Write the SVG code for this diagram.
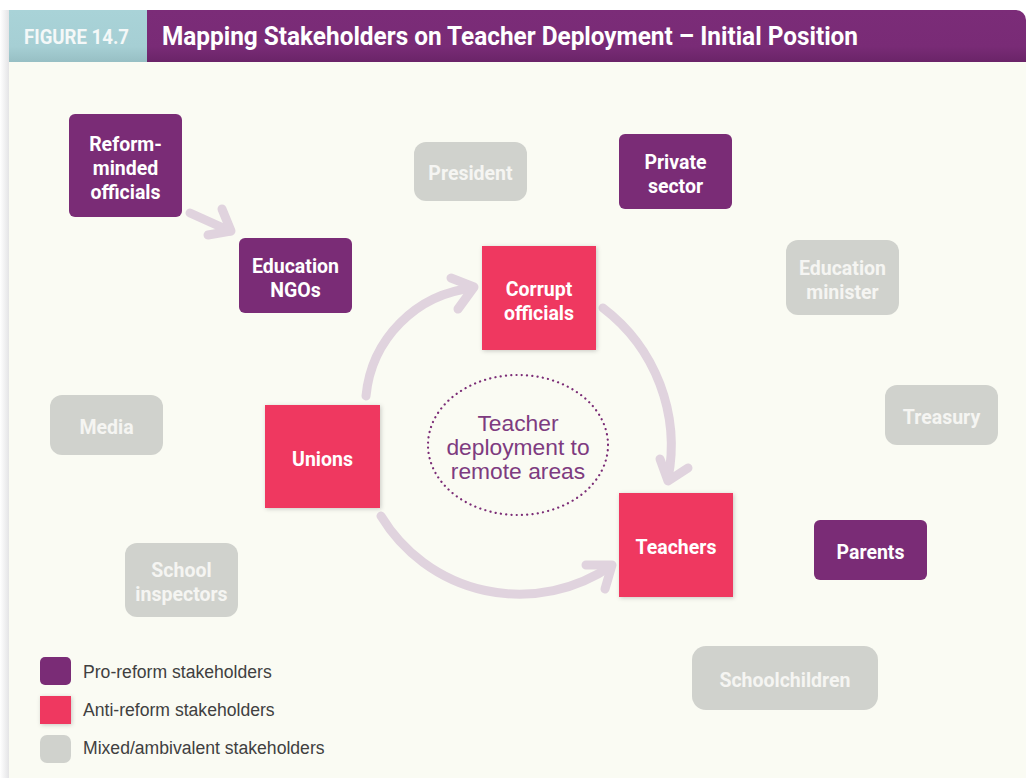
<svg xmlns="http://www.w3.org/2000/svg" width="1026" height="778" viewBox="0 0 1026 778">
<defs>
<style>
.pro{fill:#7a2c76}
.anti{fill:#ef3860}
.mix{fill:#d0d2cd}
.lbl{font-family:Roboto,"Liberation Sans",sans-serif;font-weight:bold;font-size:19.5px;text-anchor:middle;fill:#ffffff}
.mix-t{fill:#f5f5f2}
.leg{font-family:"Liberation Sans",Arial,sans-serif;font-size:17.6px;fill:#404040}
.arr{fill:none;stroke:#e0d3de;stroke-width:9;stroke-linecap:round;stroke-linejoin:round}
</style>
<linearGradient id="tealg" x1="0" y1="0" x2="0" y2="1">
<stop offset="0" stop-color="#a9d3d8"/><stop offset="0.7" stop-color="#a6cfd4"/><stop offset="1" stop-color="#97bfc4"/>
</linearGradient>
<linearGradient id="purg" x1="0" y1="0" x2="0" y2="1">
<stop offset="0" stop-color="#7b2c78"/><stop offset="0.7" stop-color="#792b76"/><stop offset="1" stop-color="#6a2468"/>
</linearGradient>
<linearGradient id="leftg" x1="0" y1="0" x2="1" y2="0">
<stop offset="0" stop-color="#ffffff"/><stop offset="1" stop-color="#e4e4e6"/>
</linearGradient>
<filter id="sh" x="-10%" y="-10%" width="125%" height="125%">
<feDropShadow dx="1" dy="1" stdDeviation="2" flood-color="#000" flood-opacity="0.2"/>
</filter>
</defs>

<rect x="0" y="0" width="1026" height="778" fill="#ffffff"/>
<rect x="0" y="10" width="9" height="768" fill="url(#leftg)"/>
<rect x="9" y="62" width="1017" height="716" fill="#fafbf3"/>

<g id="header">
<rect x="9" y="10" width="138" height="52" fill="url(#tealg)"/>
<path d="M147,10 H1016 A10,10 0 0 1 1026,20 V62 H147 Z" fill="url(#purg)"/>
<text x="24" y="44" font-family="Roboto,Liberation Sans,sans-serif" font-weight="bold" font-size="21" fill="#f4f8f8" textLength="105" lengthAdjust="spacingAndGlyphs">FIGURE 14.7</text>
<text x="162" y="45" font-family="Roboto,Liberation Sans,sans-serif" font-weight="bold" font-size="25" fill="#ffffff" textLength="696" lengthAdjust="spacingAndGlyphs">Mapping Stakeholders on Teacher Deployment – Initial Position</text>
</g>

<g id="connectors">
<path class="arr" d="M190,213 L230,231"/>
<path class="arr" d="M222,209 L231,231 L208,235"/>
<path class="arr" d="M366,396 A120,120 0 0 1 473,288"/>
<path class="arr" d="M451,278 L474,287 L458,309"/>
<path class="arr" d="M603,308 A173,173 0 0 1 668,479"/>
<path class="arr" d="M660,459 L668,481 L688,468"/>
<path class="arr" d="M381,516 A162,162 0 0 0 611,566"/>
<path class="arr" d="M586,565 L612,565 L605,589"/>
</g>

<g id="n-reform"><rect class="pro" x="69" y="114" width="113" height="103" rx="6"/>
<text class="lbl" x="125.5" y="151">Reform-</text><text class="lbl" x="125.5" y="175">minded</text><text class="lbl" x="125.5" y="199">officials</text></g>
<g id="n-ngos"><rect class="pro" x="239" y="238" width="113" height="75" rx="6"/>
<text class="lbl" x="295.5" y="273">Education</text><text class="lbl" x="295.5" y="297">NGOs</text></g>
<g id="n-president"><rect class="mix" x="414" y="142" width="113" height="59" rx="12"/>
<text class="lbl mix-t" x="470.5" y="180">President</text></g>
<g id="n-private"><rect class="pro" x="619" y="134" width="113" height="75" rx="6"/>
<text class="lbl" x="675.5" y="169">Private</text><text class="lbl" x="675.5" y="193">sector</text></g>
<g id="n-edminister"><rect class="mix" x="786" y="240" width="113" height="75" rx="12"/>
<text class="lbl mix-t" x="842.5" y="275">Education</text><text class="lbl mix-t" x="842.5" y="299">minister</text></g>
<g id="n-corrupt"><rect class="anti" x="482" y="246" width="114" height="104" filter="url(#sh)"/>
<text class="lbl" x="539" y="296">Corrupt</text><text class="lbl" x="539" y="320">officials</text></g>
<g id="n-media"><rect class="mix" x="50" y="395" width="113" height="60" rx="12"/>
<text class="lbl mix-t" x="106.5" y="434">Media</text></g>
<g id="n-unions"><rect class="anti" x="265" y="405" width="115" height="103" filter="url(#sh)"/>
<text class="lbl" x="322.5" y="466">Unions</text></g>
<g id="n-treasury"><rect class="mix" x="885" y="385" width="113" height="60" rx="12"/>
<text class="lbl mix-t" x="941.5" y="424">Treasury</text></g>
<g id="n-center">
<ellipse cx="518" cy="445" rx="90" ry="70" fill="none" stroke="#7b2c76" stroke-width="2.2" stroke-dasharray="0.1 5.2" stroke-linecap="round"/>
<g font-family="Liberation Sans,Arial,sans-serif" font-size="22.8" fill="#7e3b80" text-anchor="middle">
<text x="518" y="431">Teacher</text><text x="518" y="455">deployment to</text><text x="518" y="479">remote areas</text></g></g>
<g id="n-teachers"><rect class="anti" x="619" y="493" width="114" height="104" filter="url(#sh)"/>
<text class="lbl" x="676" y="554">Teachers</text></g>
<g id="n-parents"><rect class="pro" x="814" y="520" width="113" height="60" rx="6"/>
<text class="lbl" x="870.5" y="559">Parents</text></g>
<g id="n-inspectors"><rect class="mix" x="125" y="543" width="113" height="74" rx="12"/>
<text class="lbl mix-t" x="181.5" y="577">School</text><text class="lbl mix-t" x="181.5" y="601">inspectors</text></g>
<g id="n-schoolchildren"><rect class="mix" x="692" y="646" width="186" height="64" rx="14"/>
<text class="lbl mix-t" x="785" y="687">Schoolchildren</text></g>

<g id="legend">
<rect class="pro" x="40" y="657" width="31" height="28" rx="5"/>
<rect class="anti" x="40" y="696" width="31" height="28" filter="url(#sh)"/>
<rect class="mix" x="40" y="735" width="31" height="28" rx="7"/>
<text class="leg" x="83" y="678">Pro-reform stakeholders</text>
<text class="leg" x="83" y="716">Anti-reform stakeholders</text>
<text class="leg" x="83" y="754">Mixed/ambivalent stakeholders</text>
</g>
</svg>
